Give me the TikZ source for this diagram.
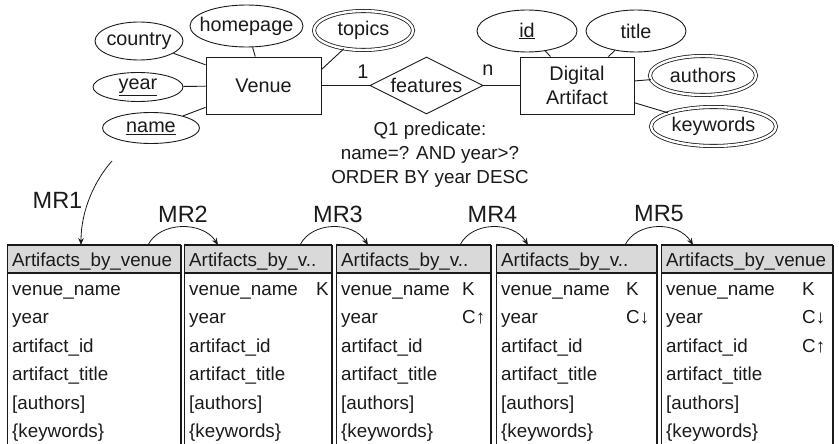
\documentclass[tikz,border=0pt]{standalone}
\usepackage{fontspec}
\setmainfont{Liberation Sans}
\usetikzlibrary{shapes.geometric,arrows.meta}

\definecolor{hdrgray}{HTML}{D9D9D9}
\definecolor{ink}{HTML}{1A1A1A}

\tikzset{
  erfont/.style={font=\fontsize{19.8}{24}\selectfont},
  attr/.style={ellipse, draw=ink, line width=0.9pt, inner sep=0pt, text=ink, erfont},
  multi/.style={attr, double, double distance=2.4pt, line width=0.8pt},
  entity/.style={rectangle, draw=ink, line width=0.9pt, inner sep=0pt, align=center, text=ink, erfont},
  rel/.style={diamond, draw=ink, line width=0.9pt, inner sep=0pt, aspect=2, text=ink, erfont},
  link/.style={draw=ink, line width=0.9pt},
  card/.style={inner sep=0pt, text=ink, erfont},
  note/.style={inner sep=0pt, align=center, text=ink, font=\fontsize{18.8}{24}\selectfont},
  mrarrow/.style={draw=ink, line width=0.8pt, -{Stealth[length=7pt,width=5.5pt]}},
  mrlabel/.style={inner sep=0pt, text=ink, font=\fontsize{23.5}{26}\selectfont},
  cell/.style={anchor=base west, inner sep=0pt, text=ink, font=\fontsize{18.8}{22}\selectfont},
  hrule/.style={draw=ink, line width=1.1pt},
  lrule/.style={draw=ink, line width=0.9pt},
  rrule/.style={draw=ink, line width=1.8pt},
}

% one relation table: #1 name, #2 left x, #3 right x, #4 title
\newcommand\arttable[4]{%
  \fill[hdrgray] (#2,245) rectangle (#3,273);
  \draw[hrule] (#2,245) -- (#3,245);
  \draw[hrule] (#2,273) -- (#3,273);
  \draw[lrule] (#2,245) -- (#2,444);
  \draw[rrule] (#3,245) -- (#3,444);
  \node[cell] (#1)       at ({#2+5},266.5) {#4};
  \node[cell] (#1-name)  at ({#2+5},295)   {venue\_name};
  \node[cell] (#1-year)  at ({#2+5},323.5) {year};
  \node[cell] (#1-id)    at ({#2+5},352)   {artifact\_id};
  \node[cell] (#1-title) at ({#2+5},380.5) {artifact\_title};
  \node[cell] (#1-auth)  at ({#2+5},409)   {[authors]};
  \node[cell] (#1-kw)    at ({#2+5},437.5) {\{keywords\}};
}

\begin{document}
\begin{tikzpicture}[x=1pt,y=-1pt]
\useasboundingbox (0,0) rectangle (839,444);

% ---------------- ER model ----------------
\node[entity, minimum width=115pt, minimum height=57pt] (venue) at (263.5,85.5) {Venue};
\node[entity, minimum width=114pt, minimum height=57pt] (da) at (577,85.5) {Digital\\Artifact};
\node[rel, minimum width=113pt, minimum height=57pt] (feat) at (426.5,85.5) {\makebox[0pt]{features}};

\node[attr, minimum width=88pt, minimum height=38pt] (country) at (139,41) {\makebox[0pt]{country}};
\node[attr, minimum width=113pt, minimum height=42pt] (homepage) at (246.5,26) {\makebox[0pt]{homepage}};
\node[multi, minimum width=99pt, minimum height=39pt] (topics) at (363.5,30.5) {\makebox[0pt]{topics}};
\node[attr, minimum width=90pt, minimum height=29pt] (year) at (138,87) {\makebox[0pt]{\underline{year}}};
\node[attr, minimum width=97pt, minimum height=31pt] (name) at (151,128) {\makebox[0pt]{\underline{name}}};

\node[attr, minimum width=100pt, minimum height=42pt] (id) at (527,31) {\makebox[0pt]{\underline{id}}};
\node[attr, minimum width=100pt, minimum height=42pt] (title) at (636,31) {\makebox[0pt]{title}};
\node[multi, minimum width=106pt, minimum height=39pt] (authors) at (703,75.5) {\makebox[0pt]{authors}};
\node[multi, minimum width=125pt, minimum height=39pt] (keywords) at (713.5,126.5) {\makebox[0pt]{keywords}};

\draw[link] (country) -- (venue);
\draw[link] (homepage) -- (venue);
\draw[link] ([yshift=-13pt]venue.north east) -- (topics);
\draw[link] (year) -- (venue);
\draw[link] (name) -- (venue);
\draw[link] (venue.east) -- (feat.west);
\draw[link] (feat.east) -- (da.west);
\draw[link] (id) -- (da);
\draw[link] (title) -- (da);
\draw[link] (authors) -- (da);
\draw[link] (keywords) -- (da);

\node[card] (one) at (363,72) {1};
\node[card] (many) at (488,70) {n};

\node[note] (q1) at (430,155) {Q1 predicate:\\name=? AND year>?\\ORDER BY year DESC};

% ---------------- tables ----------------
\arttable{t1}{7}{181}{Artifacts\_by\_venue}
\arttable{t2}{184}{332}{Artifacts\_by\_v..}
\arttable{t3}{336}{491}{Artifacts\_by\_v..}
\arttable{t4}{496}{657}{Artifacts\_by\_v..}
\arttable{t5}{661}{833}{Artifacts\_by\_venue}

\node[cell] (t2-k) at (316,295)   {K};
\node[cell] (t3-k) at (462,295)   {K};
\node[cell] (t3-c) at (462,323.5) {C↑};
\node[cell] (t4-k) at (626,295)   {K};
\node[cell] (t4-c) at (626,323.5) {C↓};
\node[cell] (t5-k) at (802,295)   {K};
\node[cell] (t5-c) at (802,323.5) {C↓};
\node[cell] (t5-d) at (802,352)   {C↑};

% ---------------- mapping rules ----------------
\coordinate (mr1s) at (112,161);
\coordinate (mr1e) at (81,245);
\coordinate (mr2s) at (148,245);
\coordinate (mr2e) at (218,245);
\coordinate (mr3s) at (300,245);
\coordinate (mr3e) at (368,245);
\coordinate (mr4s) at (460,245);
\coordinate (mr4e) at (528,245);
\coordinate (mr5s) at (625,245);
\coordinate (mr5e) at (693,245);

\draw[mrarrow] (mr1s) .. controls (95,180) and (81,210) .. (mr1e);
\draw[mrarrow] (mr2s) .. controls +(12,-24) and +(-15,-24) .. (mr2e);
\draw[mrarrow] (mr3s) .. controls +(12,-24) and +(-15,-24) .. (mr3e);
\draw[mrarrow] (mr4s) .. controls +(12,-24) and +(-15,-24) .. (mr4e);
\draw[mrarrow] (mr5s) .. controls +(12,-24) and +(-15,-24) .. (mr5e);

\node[mrlabel] (mr1) at (57.5,200) {MR1};
\node[mrlabel] (mr2) at (183,214) {MR2};
\node[mrlabel] (mr3) at (338,214) {MR3};
\node[mrlabel] (mr4) at (492.5,214) {MR4};
\node[mrlabel] (mr5) at (659,214) {MR5};
\end{tikzpicture}
\end{document}
